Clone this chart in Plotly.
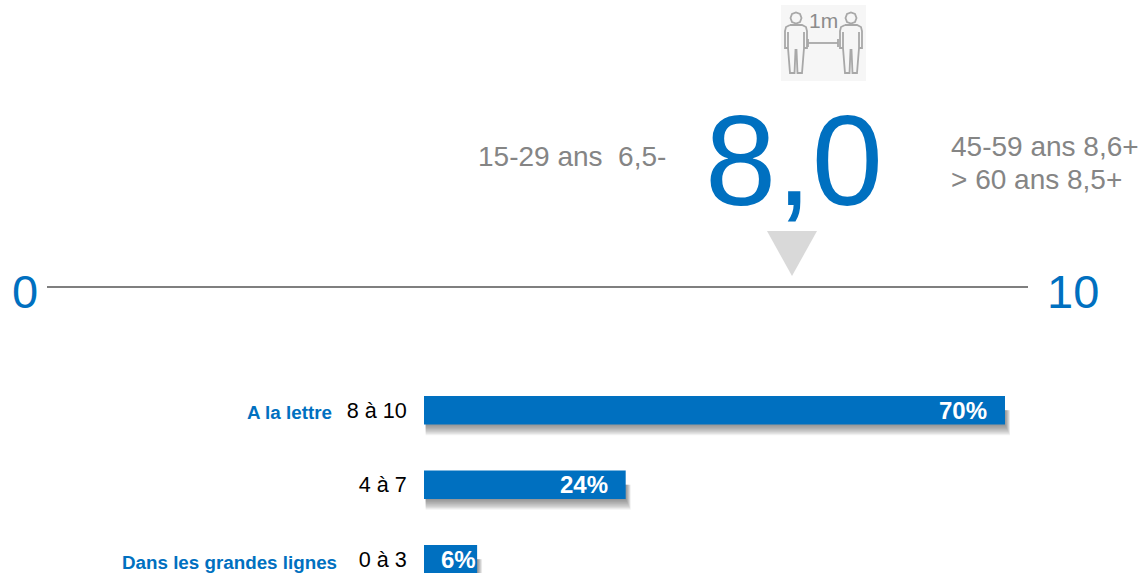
import plotly.graph_objects as go

W, H = 1142, 573

# Data
score_bands = ['8 à 10', '4 à 7', '0 à 3']
band_values = [70, 24.3, 6.4]
band_labels = ['70%', '24%', '6%']
side_notes = ['A la lettre', '', 'Dans les grandes lignes']
scale_ends = ['0', '10']
main_score = '8,0'
young_note = '15-29 ans  6,5-'
older_notes = ['45-59 ans 8,6+', '> 60 ans 8,5+']

BLUE = '#0070C0'
GREY_TEXT = '#858585'
ICON = '#A8A8A8'


def px(x):
    return x / W


def py(y):
    return 1 - y / H


def label(text, x, y, size, color, anchor='left', bold=False):
    return dict(text=f'<b>{text}</b>' if bold else text, x=px(x), y=py(y), xref='paper', yref='paper',
                xanchor=anchor, yanchor='middle', showarrow=False,
                font=dict(family='Liberation Sans', size=size, color=color))


def path_shape(path, fill=None, color=ICON, width=1.8):
    return dict(type='path', path=path, xref='paper', yref='paper',
                line=dict(color=color, width=width), fillcolor=fill)


def pts(cmds):
    # cmds in pixels -> paper coordinates
    out = []
    for c in cmds:
        if c == 'Z':
            out.append('Z')
        else:
            out.append(f'{c[0]}{px(c[1]):.5f},{py(c[2]):.5f}')
    return ' '.join(out)


def person(cx):
    outline = [(-6, 25), (6, 25), (10, 27), (11, 31), (11, 48), (8, 48), (8, 32), (8, 48), (6, 73), (1.5, 73),
               (0.5, 50), (-0.5, 50), (-1.5, 73), (-6, 73), (-8, 48), (-8, 32), (-8, 48), (-11, 48), (-11, 31),
               (-10, 27), (-6, 25)]
    cmds = [('M' if i == 0 else 'L', cx + a, b) for i, (a, b) in enumerate(outline)]
    head = [('M', cx - 5.5, 18), ('L', cx - 4, 14), ('L', cx, 12.5), ('L', cx + 4, 14), ('L', cx + 5.5, 18),
            ('L', cx + 4, 22), ('L', cx, 23.5), ('L', cx - 4, 22), 'Z']
    return [path_shape(pts(cmds)), path_shape(pts(head))]


shapes = []

# soft shadows under the bars, built from the values
for i, v in enumerate(band_values):
    for step in range(1, 13):
        shapes.append(dict(type='rect', xref='x', yref='y', layer='below',
                           x0=0.2, x1=v + step * 0.05,
                           y0=i, y1=i + 0.191 + step * 0.012,
                           fillcolor='rgba(80,80,80,0.07)', line=dict(width=0)))

# scale line and pointer
shapes.append(dict(type='line', xref='paper', yref='paper', x0=px(47), x1=px(1028), y0=py(287), y1=py(287),
                   line=dict(color='#7F7F7F', width=2)))
shapes.append(dict(type='path', xref='paper', yref='paper',
                   path=pts([('M', 767, 231), ('L', 817, 231), ('L', 792, 276), 'Z']),
                   fillcolor='#D9D9D9', line=dict(width=0)))

# distance icon
shapes.append(dict(type='rect', xref='paper', yref='paper', x0=px(781), x1=px(866), y0=py(5), y1=py(81),
                   fillcolor='#F6F6F6', line=dict(width=0), layer='below'))
shapes += person(796) + person(851)
shapes.append(path_shape(pts([('M', 808, 43), ('L', 838, 43)])))
shapes.append(path_shape(pts([('M', 808, 39), ('L', 808, 47)])))
shapes.append(path_shape(pts([('M', 838, 39), ('L', 838, 47)])))

annotations = [
    label(main_score, 794, 160, 128, BLUE, 'center'),
    label(young_note, 476, 156, 28, GREY_TEXT),
    label(older_notes[0], 949, 146, 28, GREY_TEXT),
    label(older_notes[1], 949, 179, 28, GREY_TEXT),
    label(scale_ends[0], 25, 291, 47, BLUE, 'center'),
    label(scale_ends[1], 1073, 291, 47, BLUE, 'center'),
    label('1m', 823, 21, 21, '#8C8C8C', 'center'),
    label(side_notes[0], 334, 412, 18.8, BLUE, 'right', bold=True),
    label(side_notes[2], 339, 562, 18.8, BLUE, 'right', bold=True),
]

# percentages inside the bar ends, the smallest bar only just fits its label
for i, v in enumerate(band_values):
    annotations.append(dict(text=f'<b>{band_labels[i]}</b>', x=v, y=i, xref='x', yref='y',
                            xanchor='right', yanchor='middle', xshift=-16 if v > 10 else 1, showarrow=False,
                            font=dict(family='Liberation Sans', size=24, color='white')))

fig = go.Figure(go.Bar(
    x=band_values,
    y=score_bands,
    orientation='h',
    marker=dict(color=BLUE, line=dict(width=0)),
    hoverinfo='skip',
))

fig.update_layout(
    width=W,
    height=H,
    margin=dict(l=0, r=0, t=0, b=0),
    paper_bgcolor='white',
    plot_bgcolor='rgba(0,0,0,0)',
    showlegend=False,
    bargap=0.617,
    shapes=shapes,
    annotations=annotations,
    xaxis=dict(domain=[px(424), 1], range=[0, (W - 424) / 8.3], visible=False),
    yaxis=dict(domain=[0, py(373)], type='category', categoryorder='array', categoryarray=score_bands,
               range=[2.184, -0.5], showgrid=False, showline=False, zeroline=False,
               ticks='outside', ticklen=12, tickcolor='rgba(0,0,0,0)',
               tickfont=dict(family='Liberation Sans', size=21.6, color='black')),
)

# the browser's default body margin would push the chart 8px off
fig.write_html('out.html', config=dict(displayModeBar=False), post_script="document.body.style.margin='0';")
